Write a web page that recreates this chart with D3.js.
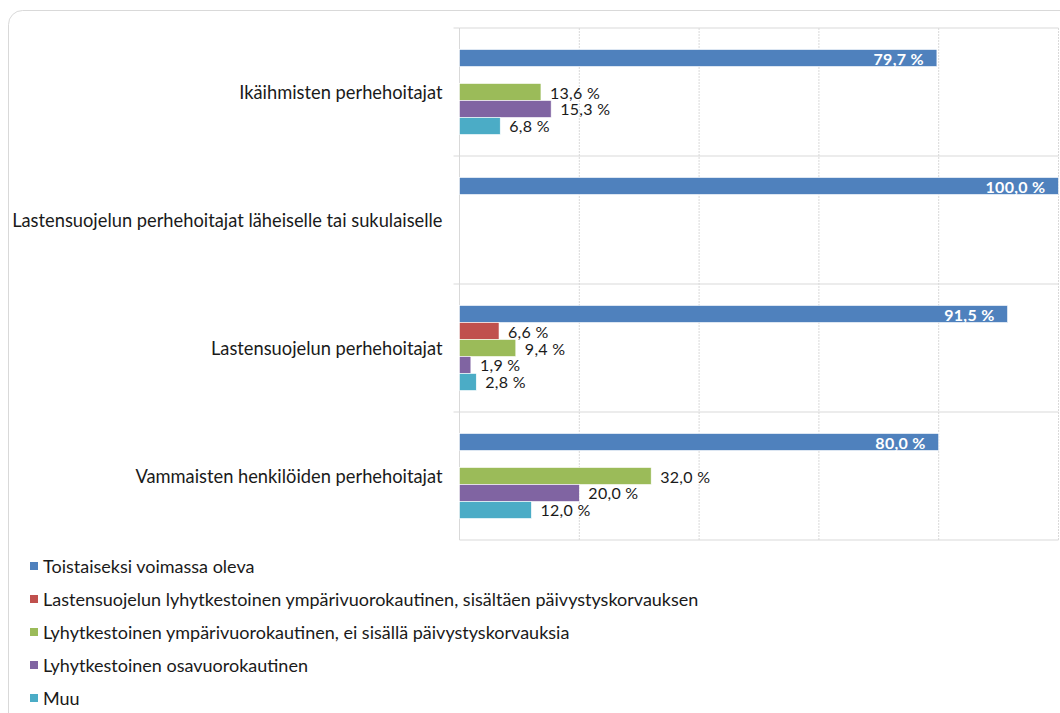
<!DOCTYPE html>
<html><head><meta charset="utf-8">
<script src="https://cdn.jsdelivr.net/npm/d3@7"></script>
<style>body{margin:0;background:#fff;}svg{display:block;font-family:Lato,"Open Sans",sans-serif;}</style>
</head><body><svg id="c" width="1060" height="713"></svg>
<script>
const categories = ["Ikäihmisten perhehoitajat","Lastensuojelun perhehoitajat läheiselle tai sukulaiselle","Lastensuojelun perhehoitajat","Vammaisten henkilöiden perhehoitajat"];
const seriesNames = ["Toistaiseksi voimassa oleva","Lastensuojelun lyhytkestoinen ympärivuorokautinen, sisältäen päivystyskorvauksen","Lyhytkestoinen ympärivuorokautinen, ei sisällä päivystyskorvauksia","Lyhytkestoinen osavuorokautinen","Muu"];
const colors = ["#4F81BD","#C0504D","#9BBB59","#8064A2","#4BACC6"];
const s1 = [79.7, 100.0, 91.5, 80.0];
const s2 = [null, null, 6.6, null];
const s3 = [13.6, null, 9.4, 32.0];
const s4 = [15.3, null, 1.9, 20.0];
const s5 = [6.8, null, 2.8, 12.0];
const xTicks = [0,20,40,60,80,100];
const seriesVals = [s1,s2,s3,s4,s5];

const svg = d3.select("#c");
// outer frame
svg.append("rect").attr("x",8.5).attr("y",10.5).attr("width",1080).attr("height",720).attr("rx",14)
  .attr("fill","none").attr("stroke","#d9d9d9").attr("stroke-width",1);

const L = 459.5, R = 1058.5, T = 28, B = 540;
const x = d3.scaleLinear().domain([0,100]).range([L,R]);
const y = d3.scaleBand().domain(categories).range([T,B]);
const ySub = d3.scaleBand().domain(d3.range(5)).range([0,y.bandwidth()]).paddingOuter(1.265);

const fmt = v => d3.format(".1f")(v).replace(".",",") + " %";

// gridlines
const g = svg.append("g");
g.selectAll("line.v").data(xTicks).join("line")
  .attr("x1",d=>x(d)).attr("x2",d=>x(d)).attr("y1",T).attr("y2",B)
  .attr("stroke","#d9d9d9").attr("stroke-width",1).attr("stroke-dasharray",d=>d===0?null:"2,1");
// horizontal separators
const seps = [T].concat(categories.map(c=>y(c)+y.bandwidth()));
g.selectAll("line.h").data(seps).join("line")
  .attr("x1",(d,i)=> i===0||i===seps.length-1 ? L : L-6).attr("x2",R).attr("y1",d=>d).attr("y2",d=>d)
  .attr("stroke","#d9d9d9").attr("stroke-width",1);
g.append("line").attr("x1",L-6).attr("x2",L).attr("y1",T).attr("y2",T).attr("stroke","#d9d9d9");

// category labels
svg.append("g").selectAll("text").data(categories).join("text")
  .attr("x",L-17).attr("y",d=>y(d)+y.bandwidth()/2).attr("text-anchor","end")
  .attr("dominant-baseline","central").attr("font-size",18.3).attr("fill","#1a1a1a").text(d=>d);

// bars
const bars = [];
seriesVals.forEach((arr,si)=>arr.forEach((v,ci)=>{ if(v!=null) bars.push({si,ci,v}); }));
const bg = svg.append("g");
bg.selectAll("rect").data(bars).join("rect")
  .attr("x",x(0)).attr("y",d=>y(categories[d.ci])+ySub(d.si))
  .attr("width",d=>x(d.v)-x(0)).attr("height",ySub.bandwidth())
  .attr("fill",d=>colors[d.si]).attr("stroke","#fff").attr("stroke-width",0.6);

// labels
bg.selectAll("text").data(bars).join("text")
  .attr("x",d=> d.si===0 ? x(d.v)-13 : x(d.v)+9)
  .attr("y",d=>y(categories[d.ci])+ySub(d.si)+ySub.bandwidth()/2)
  .attr("text-anchor",d=>d.si===0?"end":"start")
  .attr("dominant-baseline","central")
  .attr("font-size",16)
  .attr("letter-spacing",0.3)
  .attr("font-weight",d=>d.si===0?"bold":"normal")
  .attr("fill",d=>d.si===0?"#fff":"#1a1a1a")
  .text(d=>fmt(d.v));

// legend
const lg = svg.append("g");
const ly = d3.scalePoint().domain(d3.range(5)).range([566,698]);
lg.selectAll("rect").data(seriesNames).join("rect")
  .attr("x",30).attr("y",(d,i)=>ly(i)-4).attr("width",8).attr("height",8).attr("fill",(d,i)=>colors[i]);
lg.selectAll("text").data(seriesNames).join("text")
  .attr("x",43).attr("y",(d,i)=>ly(i)).attr("dominant-baseline","central")
  .attr("font-size",18).attr("fill","#1a1a1a").text(d=>d);
</script></body></html>
